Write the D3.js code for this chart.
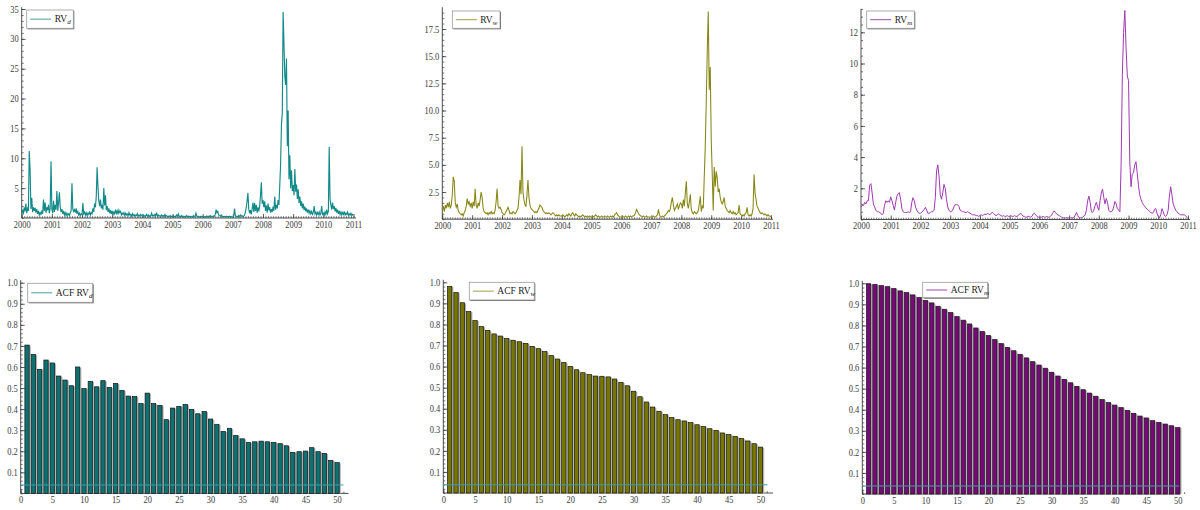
<!DOCTYPE html>
<html>
<head>
<meta charset="utf-8">
<script src="https://cdn.jsdelivr.net/npm/d3@7"></script>
<style>
  body { margin: 0; background: #fff; }
  svg { display: block; }
  text { font-family: "Liberation Serif", "Times New Roman", serif; }
</style>
</head>
<body>
<svg id="chart" width="1200" height="510"></svg>
<script>
// ---------------- data ----------------
// Realized volatility, sampled on a regular grid starting at 2000.0
const seriesStart = 2000;
const yearTicks = d3.range(2000, 2012);

// daily RV, 36 samples per year
const rvDailyStep = 1 / 36;
const rvDaily = [
  0.9,1.4,0.6,1.8,1.1,2.4,0.8,1.6,1.2,11.2,8.2,1.5,3.4,1.0,1.8,1.2,1.7,0.9,1.5,0.7,1.2,0.5,0.9,0.6,1.1,0.7,3.1,1.2,2.6,0.9,1.8,1.3,2.2,0.8,1.6,9.5,
  1.5,0.8,2.9,1.0,2.2,1.4,4.5,1.2,2.6,4.3,1.8,1.0,1.5,0.7,1.2,0.5,0.9,0.4,0.8,0.5,0.7,0.4,0.9,1.2,5.8,1.5,1.1,1.4,0.9,1.6,0.7,1.1,0.5,0.8,0.4,0.7,
  0.6,2.5,0.7,1.0,0.5,0.9,0.4,0.8,0.6,1.1,0.5,0.9,0.7,1.6,1.0,2.4,1.8,3.6,8.5,5.3,2.9,2.0,3.1,1.6,2.2,1.4,5.0,2.1,3.8,1.3,2.0,1.0,1.6,0.8,1.3,0.7,
  1.2,0.6,1.0,0.7,1.4,0.8,1.2,0.6,1.3,0.9,1.1,0.5,0.8,0.6,0.9,0.4,0.8,0.5,0.7,0.4,0.9,0.5,0.6,0.3,0.7,0.4,0.6,0.3,0.5,0.4,0.7,0.3,0.5,0.3,0.6,0.4,
  0.3,0.5,0.2,0.4,0.3,0.6,0.3,0.5,0.2,0.4,0.3,0.8,0.4,0.5,0.3,0.6,0.4,0.9,0.3,0.5,0.3,0.4,0.2,0.5,0.3,0.4,0.2,0.6,0.3,0.4,0.2,0.3,0.2,0.4,0.2,0.3,
  0.2,0.4,0.2,0.3,0.2,0.5,0.3,0.7,0.2,0.3,0.2,0.4,0.2,0.3,0.15,0.3,0.2,0.4,0.2,0.3,0.2,0.3,0.15,0.25,0.2,0.4,0.2,0.3,0.8,0.3,0.2,0.3,0.15,0.25,0.2,0.3,
  0.2,0.3,0.15,0.25,0.2,0.35,0.15,0.3,0.2,0.4,0.2,0.3,0.2,0.35,0.3,0.6,1.4,0.9,1.1,0.5,0.4,0.3,0.5,0.2,0.3,0.2,0.25,0.15,0.3,0.2,0.25,0.15,0.3,0.2,0.25,0.15,
  0.2,0.3,1.6,0.4,0.2,0.3,0.2,0.4,0.2,0.5,0.3,0.4,0.2,0.3,0.5,1.0,1.8,2.8,4.2,1.5,0.8,1.3,0.6,1.5,2.6,1.0,2.5,1.2,2.2,0.9,1.8,1.1,2.0,3.8,6.0,2.4,
  3.0,1.8,2.8,1.2,2.1,0.9,2.4,1.3,1.8,0.9,1.5,1.0,1.9,1.2,3.6,1.4,2.2,1.6,3.0,2.2,5.5,9.0,15.6,17.6,34.5,29.3,23.7,22.3,26.7,12.0,18.0,6.5,10.5,5.0,8.0,4.5,
  5.5,3.8,8.2,4.4,5.6,3.2,4.8,2.5,3.6,2.0,2.8,1.6,2.4,1.3,1.9,1.1,1.6,0.9,1.4,0.8,1.2,0.7,1.1,0.6,0.9,2.0,0.7,1.0,0.5,0.9,0.6,1.0,0.5,0.8,2.0,0.6,
  0.8,0.5,1.0,0.6,1.4,0.7,1.1,11.9,3.3,2.2,1.4,2.6,1.5,2.0,1.1,1.7,0.9,1.4,0.7,1.2,0.6,1.0,0.5,0.9,0.6,1.1,0.5,0.8,0.6,1.0,0.4,0.7,0.5,0.8,0.4,0.6,
  0.5
];

// weekly RV, 30 samples per year
const rvWeeklyStep = 1 / 30;
const rvWeekly = [
  0.9,1.2,0.7,1.3,1.0,1.5,1.1,1.6,1.0,1.3,2.2,3.9,3.5,1.5,1.1,1.4,0.8,0.6,0.5,0.4,0.5,0.3,0.6,0.8,1.2,1.9,1.4,1.6,1.2,1.5,
  1.0,1.6,1.2,2.8,1.3,1.0,1.5,1.2,1.8,2.5,2.0,1.0,0.7,0.6,0.5,0.6,0.4,0.6,0.5,0.7,0.5,0.6,0.5,0.8,1.6,2.8,1.2,1.0,1.1,0.9,
  0.6,0.5,0.4,0.5,0.7,0.9,1.1,0.8,0.5,0.6,0.5,0.7,0.6,0.5,0.6,0.8,1.0,2.0,3.6,2.3,6.7,2.5,1.8,1.3,1.2,2.2,3.6,2.0,1.3,1.0,
  0.9,0.8,0.7,0.6,0.7,0.6,0.8,1.0,1.3,1.2,1.1,0.8,0.7,0.6,0.5,0.6,0.5,0.6,0.5,0.4,0.5,0.6,0.5,0.4,0.3,0.4,0.3,0.4,0.3,0.3,
  0.3,0.4,0.3,0.2,0.3,0.4,0.3,0.5,0.4,0.3,0.5,0.6,0.4,0.3,0.5,0.4,0.3,0.2,0.3,0.2,0.3,0.4,0.3,0.2,0.3,0.2,0.3,0.2,0.3,0.2,
  0.2,0.3,0.2,0.3,0.4,0.3,0.2,0.3,0.2,0.2,0.3,0.2,0.2,0.3,0.2,0.2,0.3,0.2,0.2,0.3,0.2,0.3,0.2,0.4,0.5,0.6,0.4,0.3,0.2,0.2,
  0.2,0.3,0.2,0.2,0.3,0.2,0.2,0.3,0.2,0.3,0.2,0.3,0.3,0.4,0.6,0.9,0.7,0.5,0.4,0.3,0.3,0.2,0.3,0.2,0.2,0.3,0.2,0.2,0.2,0.2,
  0.2,0.2,0.3,0.2,0.2,0.3,0.4,0.9,0.4,0.2,0.2,0.3,0.2,0.3,0.4,0.5,0.6,0.8,0.7,1.0,1.6,2.0,1.3,0.8,1.0,1.2,1.4,0.9,1.2,1.5,
  1.4,1.0,1.8,1.2,2.4,3.5,1.4,1.0,1.6,2.3,0.9,0.6,0.5,0.7,0.6,0.5,0.6,0.8,1.4,2.1,0.7,1.2,1.0,3.9,6.7,10.8,15.5,19.1,11.9,14.0,
  7.3,4.2,0.8,4.8,3.0,4.4,3.8,2.5,2.8,2.0,1.6,1.4,1.6,2.0,1.2,1.0,0.8,0.7,0.6,0.8,0.6,0.5,0.7,0.5,0.6,0.4,0.5,0.6,1.3,0.5,
  0.4,0.3,0.4,0.3,0.5,0.6,1.1,0.4,0.3,0.4,0.3,0.5,1.0,4.1,2.4,1.8,1.2,1.0,0.8,0.6,0.5,0.6,0.5,0.4,0.5,0.4,0.3,0.4,0.3,0.3,
  0.2
];

// monthly RV, 24 samples per year
const rvMonthlyStep = 1 / 24;
const rvMonthly = [
  0.8,0.9,0.9,1.1,1.0,1.2,1.2,2.2,2.3,1.7,1.0,0.8,0.6,0.5,0.5,0.45,0.4,0.3,0.4,0.9,1.2,1.1,1.2,1.1,
  1.45,1.2,0.9,0.6,1.1,1.5,1.65,1.72,1.3,0.7,0.5,0.45,0.45,0.45,0.5,0.45,0.5,1.1,1.4,1.2,0.8,0.6,0.45,0.4,
  0.4,0.45,0.55,0.65,0.78,0.6,0.4,0.4,0.45,0.5,0.5,0.6,1.4,3.1,3.5,2.8,1.6,1.3,1.7,2.25,2.0,1.3,0.8,0.6,
  0.5,0.5,0.6,0.8,0.95,0.95,0.95,0.85,0.6,0.55,0.5,0.5,0.45,0.45,0.5,0.45,0.4,0.35,0.3,0.3,0.3,0.25,0.25,0.2,
  0.25,0.3,0.25,0.3,0.35,0.3,0.4,0.35,0.3,0.4,0.45,0.4,0.3,0.25,0.3,0.35,0.3,0.25,0.2,0.25,0.2,0.2,0.25,0.2,
  0.2,0.25,0.2,0.2,0.25,0.2,0.2,0.25,0.35,0.4,0.3,0.2,0.2,0.15,0.15,0.2,0.2,0.15,0.2,0.35,0.4,0.3,0.2,0.15,
  0.15,0.15,0.15,0.2,0.15,0.15,0.2,0.15,0.15,0.2,0.3,0.45,0.55,0.45,0.35,0.3,0.25,0.2,0.15,0.1,0.1,0.1,0.12,0.1,
  0.1,0.1,0.12,0.1,0.12,0.3,0.45,0.25,0.12,0.1,0.12,0.15,0.2,0.3,0.6,1.2,1.5,1.1,0.5,0.45,0.6,0.9,1.1,0.8,
  0.6,1.2,1.7,1.95,1.4,1.0,1.35,1.1,0.6,0.5,0.5,0.55,0.8,1.15,1.0,0.7,0.6,0.5,3.5,9.3,12.0,13.4,11.0,9.2,
  8.9,3.7,2.1,2.9,3.0,3.5,3.7,3.0,2.2,1.6,1.3,1.1,0.95,0.85,0.75,0.65,0.6,0.5,0.45,0.4,0.45,0.65,0.7,0.4,
  0.2,0.1,0.3,0.7,0.5,0.25,0.2,0.3,0.6,1.5,2.1,1.6,1.0,0.8,0.6,0.5,0.4,0.35,0.3,0.3,0.3,0.3,0.25,0.15,
  0.05
];

// autocorrelations, lags 1..50
const lags = d3.range(1, 51);
const acfDaily = [
  0.704,0.660,0.589,0.633,0.619,0.557,0.538,0.511,0.600,0.498,
  0.532,0.506,0.535,0.503,0.522,0.489,0.462,0.460,0.427,0.476,
  0.426,0.418,0.350,0.405,0.413,0.422,0.399,0.378,0.389,0.353,
  0.328,0.294,0.309,0.275,0.259,0.242,0.245,0.248,0.245,0.242,
  0.236,0.226,0.195,0.198,0.201,0.217,0.198,0.190,0.157,0.146
];
const acfWeekly = [
  0.980,0.951,0.903,0.861,0.818,0.790,0.771,0.755,0.745,0.733,
  0.725,0.718,0.710,0.696,0.685,0.671,0.652,0.636,0.619,0.601,
  0.585,0.571,0.562,0.555,0.554,0.551,0.541,0.525,0.509,0.483,
  0.457,0.432,0.408,0.388,0.372,0.358,0.348,0.342,0.334,0.324,
  0.315,0.305,0.297,0.285,0.277,0.269,0.258,0.247,0.234,0.218
];
const acfMonthly = [
  0.998,0.994,0.989,0.984,0.975,0.964,0.956,0.945,0.932,0.919,
  0.907,0.891,0.877,0.861,0.842,0.825,0.807,0.788,0.771,0.752,
  0.733,0.714,0.696,0.680,0.663,0.646,0.628,0.612,0.597,0.578,
  0.560,0.544,0.528,0.511,0.495,0.479,0.464,0.448,0.434,0.422,
  0.410,0.397,0.383,0.370,0.361,0.348,0.340,0.332,0.324,0.315
];
// significance band for the autocorrelations
const acfBand = [0.040, 0.039, 0.038];

// ---------------- drawing ----------------
const svg = d3.select("#chart");
const AXIS = "#3a3a3a";
const LABEL = "#3c3c3c";
const BAND = "#3f9ea6";

function squeeze(sel, k) {
  sel.each(function () {
    const w = this.getComputedTextLength();
    this.setAttribute("textLength", (w * k).toFixed(2));
    this.setAttribute("lengthAdjust", "spacingAndGlyphs");
  });
}

function drawAxes(g, x, y, opt) {
  const [x0] = x.range();
  const y0 = y(0);
  // minor ticks
  g.append("g").attr("transform", `translate(${x0},0)`)
    .call(d3.axisLeft(y).tickValues(opt.yMinor).tickSizeInner(-2).tickSizeOuter(0).tickFormat(""))
    .call(s => s.select(".domain").remove())
    .call(s => s.selectAll("line").attr("stroke", AXIS).attr("stroke-width", 0.7));
  g.append("g").attr("transform", `translate(0,${y0})`)
    .call(d3.axisBottom(x).tickValues(opt.xMinor).tickSizeInner(-1.8).tickSizeOuter(0).tickFormat(""))
    .call(s => s.select(".domain").remove())
    .call(s => s.selectAll("line").attr("stroke", AXIS).attr("stroke-width", 0.7));
  // major ticks with labels
  const ya = g.append("g").attr("transform", `translate(${x0},0)`)
    .call(d3.axisLeft(y).tickValues(opt.yMajor).tickSizeInner(-4).tickSizeOuter(0).tickPadding(3).tickFormat(opt.yFormat))
    .call(s => s.select(".domain").remove())
    .call(s => s.selectAll("line").attr("stroke", AXIS).attr("stroke-width", 0.8));
  ya.selectAll("text").attr("fill", LABEL).style("font-size", "9.8px")
    .style("font-family", '"Liberation Serif", serif').call(squeeze, 0.86);
  const xa = g.append("g").attr("transform", `translate(0,${y0})`)
    .call(d3.axisBottom(x).tickValues(opt.xMajor).tickSizeInner(-4).tickSizeOuter(0).tickPadding(3).tickFormat(opt.xFormat))
    .call(s => s.select(".domain").remove())
    .call(s => s.selectAll("line").attr("stroke", AXIS).attr("stroke-width", 0.8));
  xa.selectAll("text").attr("fill", LABEL).style("font-size", "9.8px")
    .style("font-family", '"Liberation Serif", serif').call(squeeze, 0.86);
  // axis lines
  g.append("line").attr("x1", x0).attr("x2", x0).attr("y1", y0).attr("y2", y(opt.yTop))
    .attr("stroke", AXIS).attr("stroke-width", 0.9);
  g.append("line").attr("x1", x0).attr("x2", opt.xEnd).attr("y1", y0).attr("y2", y0)
    .attr("stroke", AXIS).attr("stroke-width", 0.9);
}

function drawLegend(g, box, color, main, sub) {
  const [bx, by, bw, bh] = box;
  g.append("rect").attr("x", bx + 1).attr("y", by + 1).attr("width", bw).attr("height", bh)
    .attr("fill", "#6a6a6a");
  g.append("rect").attr("x", bx).attr("y", by).attr("width", bw).attr("height", bh)
    .attr("fill", "#fff").attr("stroke", "#9a9a9a").attr("stroke-width", 0.8);
  const cy = by + bh / 2;
  g.append("line").attr("x1", bx + 3.5).attr("x2", bx + 24.5).attr("y1", cy).attr("y2", cy)
    .attr("stroke", color).attr("stroke-width", 1.1);
  const t = g.append("text").attr("x", bx + 28).attr("y", cy + 3.3)
    .attr("fill", "#222").style("font-size", "9.5px");
  t.append("tspan").text(main);
  t.append("tspan").attr("dy", 2).style("font-size", "7px").style("font-style", "italic").text(sub);
}

function seriesPanel(cfg) {
  const g = svg.append("g");
  const x = d3.scaleLinear().domain([2000, 2011]).range(cfg.xRange);
  const y = d3.scaleLinear().domain([0, cfg.yRef]).range(cfg.yRange);
  const pts = cfg.values.map((v, i) => [seriesStart + i * cfg.step, v]);
  drawAxes(g, x, y, {
    yMajor: cfg.yMajor, yMinor: cfg.yMinor, yTop: cfg.yTop,
    xMajor: yearTicks, xMinor: d3.range(0, 133).map(i => 2000 + i / 12),
    xEnd: cfg.xEnd, yFormat: cfg.yFormat, xFormat: d3.format("d")
  });
  g.append("path").datum(pts)
    .attr("d", d3.line().x(d => x(d[0])).y(d => y(d[1])))
    .attr("fill", "none").attr("stroke", cfg.color).attr("stroke-width", cfg.width)
    .attr("stroke-linejoin", "miter");
  drawLegend(g, cfg.legend, cfg.legendColor, "RV", cfg.sub);
}

function acfPanel(cfg) {
  const g = svg.append("g");
  const x = d3.scaleLinear().domain([0, 52]).range(cfg.xRange);
  const y = d3.scaleLinear().domain([0, 1]).range(cfg.yRange);
  drawAxes(g, x, y, {
    yMajor: d3.range(1, 11).map(i => i / 10), yMinor: d3.range(0, 51).map(i => i / 50), yTop: 1.012,
    xMajor: d3.range(0, 51, 5), xMinor: d3.range(0, 52),
    xEnd: cfg.xEnd, yFormat: d3.format(".1f"), xFormat: d3.format("d")
  });
  const w = (x(0.68) - x(0));
  const bars = g.append("g");
  bars.selectAll("rect.shade").data(lags).join("rect").attr("class", "shade")
    .attr("x", d => x(d) - w / 2 + 1).attr("width", w + 0.6)
    .attr("y", (d, i) => y(cfg.values[i]) + 0.6).attr("height", (d, i) => y(0) - y(cfg.values[i]) - 0.6)
    .attr("fill", "#b4b4b4");
  bars.selectAll("rect.bar").data(lags).join("rect").attr("class", "bar")
    .attr("x", d => x(d) - w / 2).attr("width", w)
    .attr("y", (d, i) => y(cfg.values[i])).attr("height", (d, i) => y(0) - y(cfg.values[i]))
    .attr("fill", cfg.color).attr("stroke", "#161616").attr("stroke-width", 0.7);
  g.append("line").attr("x1", x(0)).attr("x2", cfg.bandEnd)
    .attr("y1", y(cfg.band)).attr("y2", y(cfg.band))
    .attr("stroke", BAND).attr("stroke-width", 1);
  drawLegend(g, cfg.legend, cfg.legendColor, "ACF RV", cfg.sub);
}

// top row: realized volatility over time
seriesPanel({
  values: rvDaily, step: rvDailyStep, color: "#138a8a", width: 1.15, legendColor: "#5aa9a9", sub: "d",
  xRange: [21.7, 353.5], xEnd: 356, yRef: 35, yRange: [218, 9], yTop: 35.3,
  yMajor: d3.range(5, 36, 5), yMinor: d3.range(0, 36), yFormat: d3.format("d"),
  legend: [26.7, 10, 46.6, 18.3]
});
seriesPanel({
  values: rvWeekly, step: rvWeeklyStep, color: "#868614", width: 1.05, legendColor: "#a8a85a", sub: "w",
  xRange: [442.3, 771], xEnd: 773, yRef: 17.5, yRange: [219.2, 29], yTop: 19.5,
  yMajor: d3.range(2.5, 18, 2.5), yMinor: d3.range(0, 39).map(i => i / 2), yFormat: d3.format(".1f"),
  legend: [452.3, 11, 47.7, 17.3]
});
seriesPanel({
  values: rvMonthly, step: rvMonthlyStep, color: "#a038b2", width: 1, legendColor: "#a65ab6", sub: "m",
  xRange: [861, 1188], xEnd: 1190, yRef: 12, yRange: [219.5, 32.3], yTop: 13.5,
  yMajor: d3.range(2, 13, 2), yMinor: d3.range(0, 28).map(i => i / 2), yFormat: d3.format("d"),
  legend: [866.7, 11, 47.6, 17.3]
});

// bottom row: autocorrelation functions
acfPanel({
  values: acfDaily, color: "#0b7171", legendColor: "#5aa9a9", sub: "d", band: acfBand[0],
  xRange: [20.7, 20.7 + 52 * 6.327], yRange: [493.4, 282.7], xEnd: 348.5, bandEnd: 343.5,
  legend: [27.7, 283.3, 65, 19]
});
acfPanel({
  values: acfWeekly, color: "#777700", legendColor: "#a8a85a", sub: "w", band: acfBand[1],
  xRange: [443.3, 443.3 + 52 * 6.343], yRange: [493, 282.3], xEnd: 773, bandEnd: 767.5,
  legend: [469.3, 282.3, 65, 17.7]
});
acfPanel({
  values: acfMonthly, color: "#770a77", legendColor: "#a65ab6", sub: "m", band: acfBand[2],
  xRange: [862.3, 862.3 + 52 * 6.31], yRange: [494, 283.3], xEnd: 1180, bandEnd: 1179,
  legend: [922.7, 282.3, 65, 15.4]
});
</script>
</body>
</html>
